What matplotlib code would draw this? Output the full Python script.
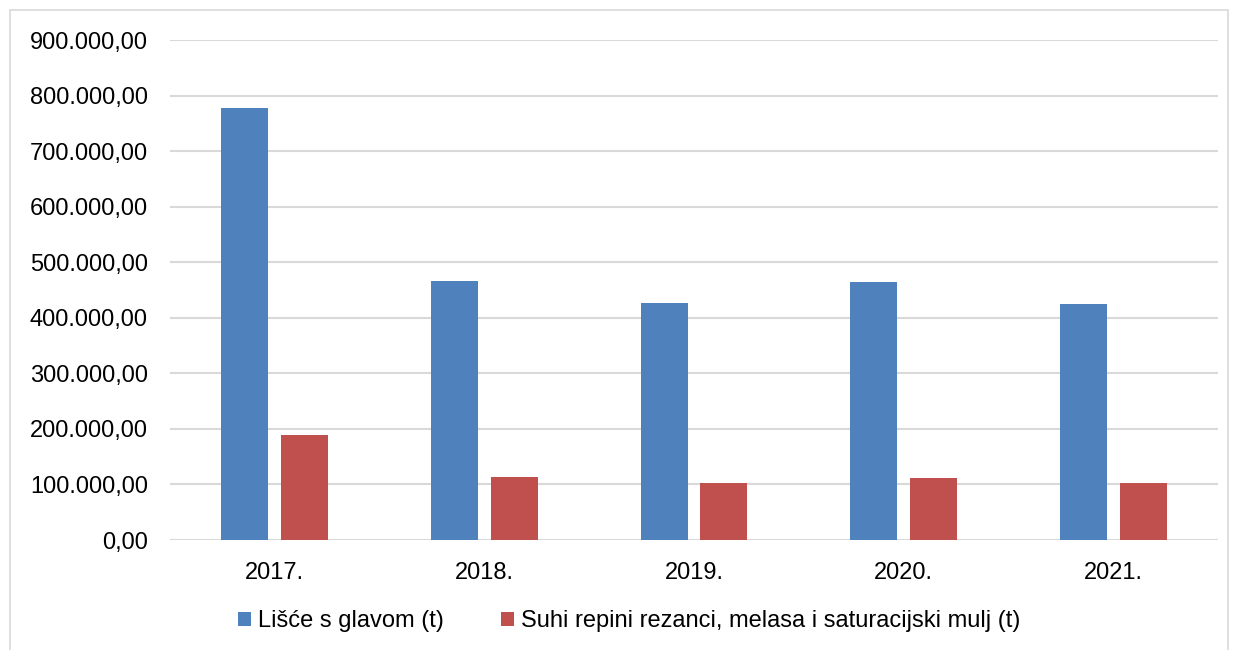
import matplotlib.pyplot as plt
from matplotlib.patches import Rectangle
from matplotlib.ticker import FuncFormatter

plt.rcParams['font.family'] = ['Liberation Sans', 'DejaVu Sans']

godine = ['2017.', '2018.', '2019.', '2020.', '2021.']
lisce = [777000, 466000, 427000, 464000, 424000]
rezanci = [189000, 113000, 103000, 112000, 103000]
naziv_lisce = 'Lišće s glavom (t)'
naziv_rezanci = 'Suhi repini rezanci, melasa i saturacijski mulj (t)'

W, H = 1235, 650
fig = plt.figure(figsize=(W / 100, H / 100), dpi=100)

# okvir oko cijelog grafikona
fig.patches.append(Rectangle((10 / W, -0.1), 1218 / W, 1.1 - 10 / H,
                             transform=fig.transFigure, fill=False,
                             edgecolor='#d9d9d9', linewidth=1.2))

ax = fig.add_axes([170 / W, (H - 540) / H, 1048 / W, 500 / H])

x = list(range(len(godine)))
sirina = 0.224
pomak = 0.143
ax.bar([i - pomak for i in x], lisce, sirina, color='#4f81bd', label=naziv_lisce, zorder=3)
ax.bar([i + pomak for i in x], rezanci, sirina, color='#c0504d', label=naziv_rezanci, zorder=3)

ax.set_xlim(-0.5, len(godine) - 0.5)
ax.set_ylim(0, 900000)
ax.set_yticks(range(0, 900001, 100000))
ax.yaxis.set_major_formatter(FuncFormatter(
    lambda v, p: f'{v:,.2f}'.replace(',', 'X').replace('.', ',').replace('X', '.')))
ax.set_xticks(x)
ax.set_xticklabels(godine)
ax.tick_params(axis='both', length=0, labelsize=17, colors='black')
ax.tick_params(axis='y', pad=16)
ax.tick_params(axis='x', pad=16)

ax.grid(axis='y', color='#d9d9d9', linewidth=1.5, zorder=0)
for s in ax.spines.values():
    s.set_visible(False)

leg = fig.legend(loc='center', bbox_to_anchor=(629 / W, 29 / H), ncol=2, frameon=False,
                 fontsize=17, handlelength=0.55, handleheight=0.55,
                 handletextpad=0.3, columnspacing=2.4)

fig.savefig('out.png', dpi=100)
